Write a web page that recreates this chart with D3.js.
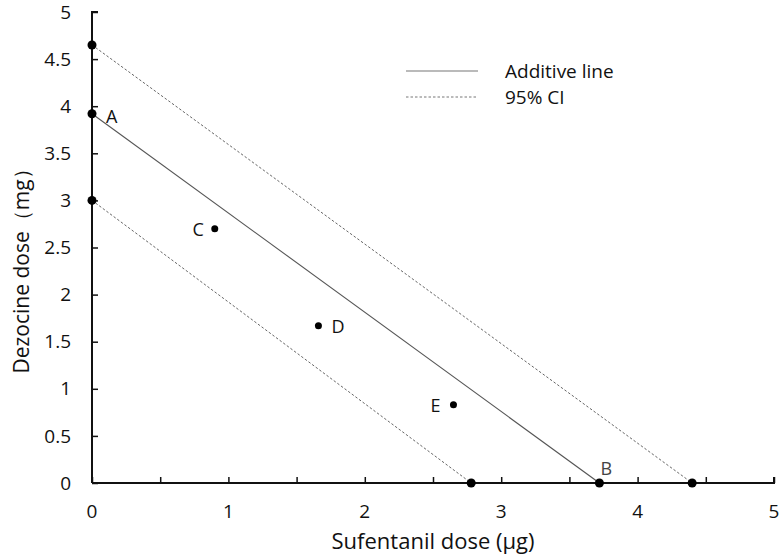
<!DOCTYPE html>
<html>
<head>
<meta charset="utf-8">
<script src="https://cdn.jsdelivr.net/npm/d3@7"></script>
<style>
  body { margin: 0; background: #fff; }
  svg text { font-family: "Open Sans", sans-serif; fill: #111; }
</style>
</head>
<body>
<div id="chart"></div>
<script>
// isobologram data
var pointNames = ["A", "B", "C", "D", "E"];
var pointX = [0, 3.72, 0.90, 1.66, 2.65];
var pointY = [3.92, 0, 2.70, 1.67, 0.83];

// lines given by their intercepts (y at x=0, x at y=0)
var lineNames = ["Additive line", "95% CI", "95% CI"];
var lineYIntercepts = [3.92, 4.65, 3.0];
var lineXIntercepts = [3.72, 4.40, 2.78];

var xTickLabels = [0, 1, 2, 3, 4, 5];
var yTickLabels = [0, 0.5, 1, 1.5, 2, 2.5, 3, 3.5, 4, 4.5, 5];

var width = 784, height = 556;
var margin = {left: 92, right: 10, top: 12, bottom: 73};

var svg = d3.select("#chart").append("svg")
    .attr("width", width)
    .attr("height", height);

var x = d3.scaleLinear().domain([0, 5]).range([margin.left, width - margin.right]);
var y = d3.scaleLinear().domain([0, 5]).range([height - margin.bottom, margin.top]);

// lines
lineNames.forEach(function(name, i) {
    svg.append("line")
        .attr("x1", x(0)).attr("y1", y(lineYIntercepts[i]))
        .attr("x2", x(lineXIntercepts[i])).attr("y2", y(0))
        .attr("stroke", "#555")
        .attr("stroke-width", i == 0 ? 1.1 : 0.9)
        .attr("stroke-dasharray", i == 0 ? null : "2.5,2");
});

// axes
var yAxis = d3.axisRight(y).tickValues(d3.range(0, 5.01, 0.5)).tickSize(6).tickFormat("");
var xAxis = d3.axisTop(x).tickValues(d3.range(0, 5.01, 0.5)).tickSize(6).tickFormat("");

var gy = svg.append("g").attr("transform", "translate(" + x(0) + ",0)").call(yAxis);
var gx = svg.append("g").attr("transform", "translate(0," + y(0) + ")").call(xAxis);
[gx, gy].forEach(function(g) {
    g.select(".domain").attr("stroke", "#111").attr("stroke-width", 2);
    g.selectAll(".tick line").attr("stroke", "#111").attr("stroke-width", 1.5);
});
gy.select(".domain").attr("d", "M6," + y(5) + "H0V" + y(0));
gx.select(".domain").attr("d", "M" + x(0) + ",0H" + x(5) + "V-6");

// tick labels
svg.selectAll(".ylab").data(yTickLabels).enter().append("text")
    .attr("class", "ylab")
    .attr("x", 71)
    .attr("y", function(d) { return y(d); })
    .attr("dy", "0.35em")
    .attr("text-anchor", "end")
    .attr("font-size", 19)
    .text(function(d) { return d; });

svg.selectAll(".xlab").data(xTickLabels).enter().append("text")
    .attr("class", "xlab")
    .attr("x", function(d) { return x(d); })
    .attr("y", 511)
    .attr("dy", "0.35em")
    .attr("text-anchor", "middle")
    .attr("font-size", 19)
    .text(function(d) { return d; });

// axis titles
svg.append("text")
    .attr("x", 433).attr("y", 549)
    .attr("text-anchor", "middle")
    .attr("font-size", 22)
    .text("Sufentanil dose (μg)");

svg.append("text")
    .attr("transform", "translate(29,266) rotate(-90)")
    .attr("text-anchor", "middle")
    .attr("font-size", 21)
    .text("Dezocine dose（mg）");

// intercept points
var ends = [];
lineNames.forEach(function(n, i) {
    ends.push([0, lineYIntercepts[i]]);
    ends.push([lineXIntercepts[i], 0]);
});
svg.selectAll(".end").data(ends).enter().append("circle")
    .attr("cx", function(d) { return x(d[0]); })
    .attr("cy", function(d) { return y(d[1]); })
    .attr("r", 4.5)
    .attr("fill", "#000");

// labelled points
var labelPos = {A: [14, 3], B: [1, -14], C: [-11, 1], D: [13, 1], E: [-13, 1]};
var labelAnchor = {A: "start", B: "start", C: "end", D: "start", E: "end"};
pointNames.forEach(function(n, i) {
    if (n != "A" && n != "B") {
        svg.append("circle")
            .attr("cx", x(pointX[i])).attr("cy", y(pointY[i]))
            .attr("r", 3.5).attr("fill", "#000");
    }
    svg.append("text")
        .attr("x", x(pointX[i]) + labelPos[n][0])
        .attr("y", y(pointY[i]) + labelPos[n][1])
        .attr("dy", "0.35em")
        .attr("text-anchor", labelAnchor[n])
        .attr("font-size", 18)
        .style("fill", n == "B" ? "#444" : "#111")
        .text(n);
});

// legend
var legendY = [71, 97];
[0, 1].forEach(function(i) {
    svg.append("line")
        .attr("x1", 406).attr("x2", 478)
        .attr("y1", legendY[i]).attr("y2", legendY[i])
        .attr("stroke", "#777")
        .attr("stroke-width", i == 0 ? 1.2 : 1)
        .attr("stroke-dasharray", i == 0 ? null : "2.5,2");
    svg.append("text")
        .attr("x", 505).attr("y", legendY[i])
        .attr("dy", "0.35em")
        .attr("font-size", 19)
        .text(lineNames[i]);
});
</script>
</body>
</html>
